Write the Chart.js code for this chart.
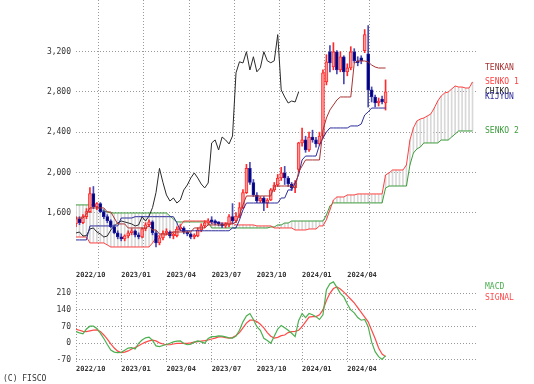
<!DOCTYPE html>
<html><head><meta charset="utf-8">
<script src="https://cdn.jsdelivr.net/npm/chart.js@4.4.1/dist/chart.umd.min.js"></script>
<style>
html,body{margin:0;padding:0;background:#fff;width:534px;height:384px;overflow:hidden;position:relative}
canvas{position:absolute;left:0}
#main{top:0}
#macd{top:279px}
#copy{position:absolute;left:3px;top:374px;font:8px "DejaVu Sans Mono",monospace;color:#333;white-space:pre}
</style></head><body>
<canvas id="main" width="534" height="285"></canvas>
<canvas id="macd" width="534" height="105"></canvas>
<div id="copy">(C) FISCO</div>
<script>
// ---- tick labels ----
const xTickPos = [0, 13, 26, 39, 52, 65, 78];
const xTickLabels = ['2022/10', '2023/01', '2023/04', '2023/07', '2023/10', '2024/01', '2024/04'];
const priceTicks = [1600, 2000, 2400, 2800, 3200];
const macdTicks = [-70, 0, 70, 140, 210];

// ---- weekly candles (index 0 = first week of 2022/10) ----
const opens = [1490,1540,1500,1560,1610,1790,1660,1690,1610,1560,
  1520,1460,1400,1360,1340,1370,1400,1420,1380,1360,
  1440,1480,1510,1400,1300,1350,1398,1408,1368,1372,
  1438,1448,1408,1388,1358,1368,1428,1468,1498,1517,
  1508,1498,1488,1468,1478,1560,1517,1567,1650,1800,
  2040,1900,1776,1716,1746,1696,1726,1826,1875,1945,
  1995,1945,1885,1846,2030,2293,2323,2223,2352,2323,
  2283,2362,2900,3200,3050,3200,3018,3150,3000,3040,
  3200,3110,3140,3210,3180,2820,2750,2690,2730,2690];
const highs = [1560,1560,1580,1640,1850,1860,1700,1700,1630,1580,
  1530,1480,1420,1390,1380,1420,1440,1430,1400,1450,
  1500,1530,1520,1420,1370,1420,1440,1420,1400,1460,
  1480,1460,1420,1400,1390,1450,1490,1520,1540,1560,
  1530,1510,1500,1500,1580,1690,1600,1700,1830,2080,
  2100,1930,1800,1760,1760,1740,1840,1900,1980,2050,
  2060,1960,1900,1920,2300,2440,2360,2400,2420,2350,
  2400,3020,3170,3260,3290,3210,3200,3160,3080,3250,
  3230,3150,3160,3420,3460,2850,2770,2740,2760,2920];
const lows = [1460,1480,1490,1540,1600,1640,1630,1600,1540,1500,
  1450,1390,1340,1320,1320,1350,1380,1360,1340,1350,
  1420,1460,1380,1260,1280,1330,1380,1350,1340,1360,
  1420,1390,1370,1340,1340,1360,1410,1450,1480,1490,
  1480,1470,1450,1450,1460,1490,1500,1550,1640,1790,
  1880,1760,1700,1700,1620,1650,1720,1810,1860,1920,
  1880,1860,1820,1800,2000,2260,2200,2210,2300,2250,
  2270,2340,2870,3000,3020,2980,3000,2880,2960,3020,
  3090,3060,3080,3190,2650,2700,2650,2660,2680,2620];
const closes = [1540,1500,1560,1610,1790,1660,1690,1610,1560,1520,
  1460,1400,1360,1340,1370,1400,1420,1380,1360,1440,
  1480,1510,1400,1300,1350,1398,1408,1368,1372,1438,
  1448,1408,1388,1358,1368,1428,1468,1498,1517,1508,
  1498,1488,1468,1478,1560,1517,1567,1650,1800,2040,
  1900,1776,1716,1746,1696,1726,1826,1875,1945,1995,
  1945,1885,1846,1895,2293,2323,2223,2352,2323,2283,
  2362,2990,3100,3088,3200,3018,3150,3000,3040,3200,
  3110,3090,3110,3370,2820,2750,2690,2710,2700,2800];

// ---- ichimoku lines ----
const tenkan = [1547,1547,1547,1587,1647,1647,1647,1647,1647,1607,
  1607,1547,1488,1488,1488,1448,1448,1448,1448,1448,
  1448,1468,1428,1428,1388,1388,1388,1388,1408,1408,
  1408,1408,1408,1408,1448,1448,1448,1448,1478,1478,
  1478,1478,1478,1488,1488,1488,1508,1577,1677,1766,
  1766,1766,1766,1766,1766,1766,1766,1865,1865,1865,
  1865,1865,1865,1845,2004,2064,2124,2124,2124,2124,
  2124,2420,2541,2621,2670,2720,2750,2750,2750,2750,
  3088,3108,3108,3108,3098,3068,3048,3038,3038,3038];
const kijun = [1329,1329,1329,1329,1468,1468,1468,1468,1468,1468,
  1468,1468,1468,1547,1547,1547,1547,1560,1560,1560,
  1560,1560,1560,1560,1560,1560,1560,1560,1560,1500,
  1420,1420,1420,1420,1420,1420,1420,1420,1420,1420,
  1420,1420,1420,1420,1420,1448,1448,1527,1627,1696,
  1696,1696,1696,1696,1696,1696,1696,1696,1696,1746,
  1746,1826,1826,1895,1975,2124,2163,2163,2163,2163,
  2273,2342,2402,2442,2442,2442,2442,2442,2442,2462,
  2462,2462,2481,2571,2601,2640,2640,2640,2640,2640];
const senko1 = [1358,1358,1358,1358,1299,1299,1299,1299,1299,1279,
  1259,1259,1259,1259,1259,1259,1259,1259,1259,1259,
  1259,1259,1299,1349,1378,1378,1378,1408,1408,1408,
  1468,1517,1517,1517,1517,1517,1517,1517,1517,1497,
  1497,1497,1497,1497,1497,1497,1478,1478,1478,1478,
  1478,1478,1468,1468,1468,1468,1468,1448,1448,1448,
  1448,1448,1448,1428,1428,1428,1428,1438,1438,1438,
  1468,1468,1530,1627,1726,1756,1756,1756,1776,1776,
  1776,1786,1786,1786,1786,1786,1786,1786,1786,1975,
  1995,2024,2024,2024,2024,2074,2322,2442,2511,2531,
  2541,2561,2581,2640,2710,2760,2790,2799,2829,2859,
  2849,2849,2839,2839,2899];
const senko2 = [1677,1677,1677,1677,1677,1677,1657,1637,1617,1607,
  1597,1597,1597,1597,1597,1597,1597,1597,1597,1597,
  1597,1597,1597,1597,1597,1597,1597,1567,1537,1508,
  1508,1508,1508,1508,1508,1508,1508,1508,1508,1448,
  1448,1448,1448,1448,1448,1448,1448,1448,1448,1448,
  1448,1448,1448,1448,1448,1448,1458,1458,1478,1478,
  1497,1497,1517,1517,1517,1517,1517,1517,1517,1517,
  1517,1517,1577,1667,1697,1697,1697,1697,1697,1697,
  1697,1697,1697,1697,1697,1697,1697,1697,1697,1845,
  1865,1865,1865,1865,1865,1865,2074,2193,2233,2253,
  2293,2293,2293,2293,2293,2322,2322,2322,2352,2382,
  2412,2412,2412,2412,2412];

// ---- MACD ----
const macd = [49,44,40,60,72,72,62,43,20,-5,
  -28,-37,-39,-38,-29,-20,-18,-24,0,14,
  23,26,12,-11,-14,-9,-5,0,6,9,
  10,-1,-6,-4,5,10,6,0,20,28,
  28,31,30,27,23,22,30,55,90,115,
  125,100,70,55,21,12,0,30,60,75,
  65,55,42,28,95,125,108,125,120,112,
  100,120,225,250,258,235,210,195,165,140,
  128,108,97,100,70,5,-35,-56,-68,-52];
const signal = [59,55,50,49,52,55,56,50,35,18,
  -2,-20,-33,-39,-37,-32,-24,-18,-10,-2,
  5,10,13,10,2,-3,-6,-6,-3,0,
  0,0,0,2,5,7,9,11,14,18,
  22,27,27,24,22,24,33,45,65,85,
  97,97,91,80,65,45,30,22,25,32,
  35,45,49,50,55,70,90,110,112,112,
  120,140,180,210,230,237,228,215,200,185,
  170,150,130,110,90,55,20,-20,-45,-56];

const CHIKOU_SHIFT = 25;

// ---- rendering ----
const FONT = '"DejaVu Sans Mono", monospace';
Chart.defaults.font.family = FONT;
Chart.defaults.color = '#333';
Chart.defaults.animation = false;

const C = {
  tenkan:'#a83232', kijun:'#2c2c9c', senko1:'#ff4040', senko2:'#3c9c3c', chikou:'#2a2a2a',
  upBody:'#ff9a9a', upEdge:'#ff2a2a', dnBody:'#00007a', dnEdge:'#1c1c9c', dnWick:'#4a4ab4',
  cloud:'#d8d8d8', grid:'#9a9a9a', macd:'#4caf50', signal:'#ff4a4a'
};

const xy = (arr, start) => arr.map((v, i) => ({x: i + (start || 0), y: v}));
const isUp = closes.map((c, i) => c >= opens[i]);
const bodies = opens.map((o, i) => ({x: i, y: [o, closes[i]]}));
const wicks = lows.map((l, i) => ({x: i, y: [l, highs[i]]}));
const cloud = senko1.map((v, i) => ({x: i, y: [v, senko2[i]]}));
const chikou = closes.slice(CHIKOU_SHIFT).map((v, j) => ({x: j, y: v}));

const line = (data, color, order, w) => ({type:'line', data, borderColor:color, borderWidth:w || 1,
  pointRadius:0, tension:0, fill:false, order});

function xScale(h, showLabels) {
  return {
    type:'linear', min:0, max:115, offset:false,
    grid:{color:C.grid, lineWidth:1, drawTicks:false},
    border:{display:false, dash:[1,2]},
    afterBuildTicks: s => { s.ticks = xTickPos.map(v => ({value:v})); },
    ticks:{display:showLabels, callback: v => xTickLabels[xTickPos.indexOf(v)] || '',
      align:'start', maxRotation:0, minRotation:0, autoSkip:false, padding:3,
      font:{size:7, weight:'bold'}, color:'#333'},
    afterFit: s => { s.height = h; s.paddingLeft = 0; s.paddingRight = 0; s.paddingTop = 0; s.paddingBottom = 0; }
  };
}
function yScale(min, max, ticks, fmt) {
  return {
    type:'linear', min, max,
    grid:{color:C.grid, lineWidth:1, drawTicks:false},
    border:{display:false, dash:[1,2]},
    afterBuildTicks: s => { s.ticks = ticks.map(v => ({value:v})); },
    ticks:{callback: fmt, padding:5, font:{size:8}, color:'#333'},
    afterFit: s => { s.width = 76; s.paddingTop = 0; s.paddingBottom = 0; s.paddingLeft = 0; s.paddingRight = 0; }
  };
}

const mainTags = [
  {text:'TENKAN', value: tenkan[tenkan.length-1], color:C.tenkan, dy:0},
  {text:'SENKO 1', value: senko1[senko1.length-1], color:C.senko1, dy:0},
  {text:'CHIKO', value: closes[closes.length-1], color:'#222', dy:0},
  {text:'KIJYUN', value: kijun[kijun.length-1], color:C.kijun, dy:-11},
  {text:'SENKO 2', value: senko2[senko2.length-1], color:C.senko2, dy:0}
];
const tagPlugin = {
  id:'tags',
  afterDatasetsDraw(chart, args, opts) {
    const {ctx, chartArea} = chart;
    const ys = chart.scales.y;
    ctx.save();
    ctx.font = '8px ' + FONT;
    ctx.textAlign = 'left';
    ctx.textBaseline = 'middle';
    opts.tags.forEach((t, k) => {
      ctx.fillStyle = t.color;
      const y = t.value !== undefined ? ys.getPixelForValue(t.value) + t.dy : chartArea.top + t.dy;
      ctx.fillText(t.text, chartArea.right + 9, y);
    });
    ctx.restore();
  }
};

new Chart(document.getElementById('main'), {
  type:'bar',
  data:{datasets:[
    {type:'bar', data:cloud, backgroundColor:C.cloud, barThickness:1, grouped:false, order:10},
    line(xy(senko2), C.senko2, 8),
    line(xy(senko1), C.senko1, 7),
    line(chikou, C.chikou, 6),
    {type:'bar', data:wicks, backgroundColor:isUp.map(u => u ? C.upEdge : C.dnWick), barThickness:1, grouped:false, order:4},
    {type:'bar', data:bodies, backgroundColor:isUp.map(u => u ? C.upBody : C.dnBody),
      borderColor:isUp.map(u => u ? C.upEdge : C.dnEdge), borderWidth:1, borderSkipped:false,
      barThickness:3, minBarLength:2, grouped:false, order:3},
    line(xy(kijun), C.kijun, 2),
    line(xy(tenkan), C.tenkan, 1)
  ]},
  options:{
    responsive:false, devicePixelRatio:1, animation:false,
    layout:{autoPadding:false, padding:{left:0, right:58, top:0, bottom:0}},
    plugins:{legend:{display:false}, tooltip:{enabled:false}, tags:{tags:mainTags}},
    scales:{
      x: xScale(17, true),
      y: yScale(1050, 3714, priceTicks, v => v.toLocaleString('en-US'))
    }
  },
  plugins:[tagPlugin]
});

const macdTags = [
  {text:'MACD', color:C.macd, dy:7},
  {text:'SIGNAL', color:C.signal, dy:18}
];
new Chart(document.getElementById('macd'), {
  type:'line',
  data:{datasets:[
    line(xy(signal), C.signal, 2, 1.2),
    line(xy(macd), C.macd, 1, 1.2)
  ]},
  options:{
    responsive:false, devicePixelRatio:1, animation:false,
    layout:{autoPadding:false, padding:{left:0, right:58, top:1, bottom:0}},
    plugins:{legend:{display:false}, tooltip:{enabled:false}, tags:{tags:macdTags}},
    scales:{
      x: xScale(22, true),
      y: yScale(-78.5, 265.9, macdTicks, v => String(v))
    }
  },
  plugins:[tagPlugin]
});
</script>
</body></html>
